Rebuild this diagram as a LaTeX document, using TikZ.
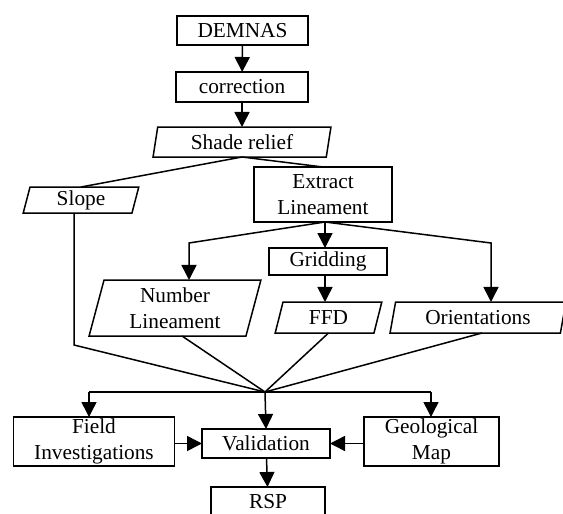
\documentclass[tikz,border=0pt]{standalone}
\usepackage{fontspec}
\setmainfont{Liberation Serif}
\usetikzlibrary{shapes.geometric,arrows.meta}
\begin{document}
\begin{tikzpicture}[x=1pt,y=-1pt,
  every node/.style={font=\fontsize{21.3}{25.5}\selectfont, align=center, inner sep=1pt, outer sep=0pt, line width=1.5pt},
  box/.style={draw, rectangle},
  para/.style={draw, trapezium, trapezium stretches=true},
  ln/.style={line width=1.5pt},
  arr/.style={line width=1.5pt, -{Triangle[width=15pt,length=15pt]}}]
\useasboundingbox (0,0) rectangle (563,514);
\begin{scope}
\clip (0,0) rectangle (563,514);
\node[box, minimum width=131pt, minimum height=29pt] (demnas) at (242.5,30.5) {DEMNAS};
\node[box, minimum width=132pt, minimum height=30pt] (corr) at (242,87) {correction};
\node[para, trapezium left angle=80.5, trapezium right angle=99.5, minimum width=178pt, minimum height=30pt] (shade) at (242,142) {Shade relief};
\node[para, trapezium left angle=81, trapezium right angle=99, minimum width=116pt, minimum height=26pt] (slope) at (81,200) {Slope};
\node[box, minimum width=138pt, minimum height=55pt] (extract) at (323,194.5) {Extract\\Lineament};
\node[box, minimum width=118pt, minimum height=27pt] (grid) at (328,261.5) {Gridding};
\node[para, trapezium left angle=77, trapezium right angle=103, minimum width=172pt, minimum height=56pt] (numlin) at (175,308) {Number\\Lineament};
\node[para, trapezium left angle=77.5, trapezium right angle=102.5, minimum width=107pt, minimum height=31pt] (ffd) at (328.5,317.5) {FFD};
\node[para, trapezium left angle=77.5, trapezium right angle=102.5, minimum width=176pt, minimum height=31pt] (orient) at (478,317.5) {Orientations};
\node[box, minimum width=161pt, minimum height=49pt] (field) at (94,441.5) {Field\\Investigations};
\node[box, minimum width=128pt, minimum height=29pt] (valid) at (266,443.5) {Validation};
\node[box, minimum width=135pt, minimum height=49pt] (geo) at (431.5,441.5) {Geological\\Map};
\node[box, minimum width=114pt, minimum height=30pt] (rsp) at (268,502) {RSP};

\coordinate (bL) at (189,243);
\coordinate (bR) at (491,243);
\coordinate (sk) at (74,345);
\coordinate (conv) at (265,392);
\coordinate (hl) at (89,392);
\coordinate (hr) at (431,392);

\draw[arr] (demnas) -- (corr);
\draw[arr] (corr) -- (shade);
\draw[ln] (shade.south) -- (slope.north);
\draw[ln] (shade.south) -- (extract.north);
\draw[arr] ([xshift=2pt]extract.south) -- ([xshift=2pt]extract.south |- grid.north);
\draw[arr] ([xshift=2pt]extract.south) -- (bL) -- (bL |- numlin.north);
\draw[arr] ([xshift=2pt]extract.south) -- (bR) -- (bR |- orient.north);
\draw[arr] ([xshift=-3pt]grid.south) -- ([xshift=-3pt]grid.south |- ffd.north);
\draw[ln] (slope.south -| sk) -- (sk) -- (conv);
\draw[ln] ([xshift=7pt]numlin.south) -- (conv);
\draw[ln] (ffd.south) -- (conv);
\draw[ln] ([xshift=4pt]orient.south) -- (conv);
\draw[ln] (hl) -- (hr);
\draw[arr] (hl) -- (hl |- field.north);
\draw[arr] (hr) -- (hr |- geo.north);
\draw[arr] (conv) -- (valid.north);
\draw[arr] (field.east |- valid.west) -- (valid.west);
\draw[arr] (geo.west |- valid.east) -- (valid.east);
\draw[arr] (valid) -- (rsp);
\end{scope}
\end{tikzpicture}
\end{document}
